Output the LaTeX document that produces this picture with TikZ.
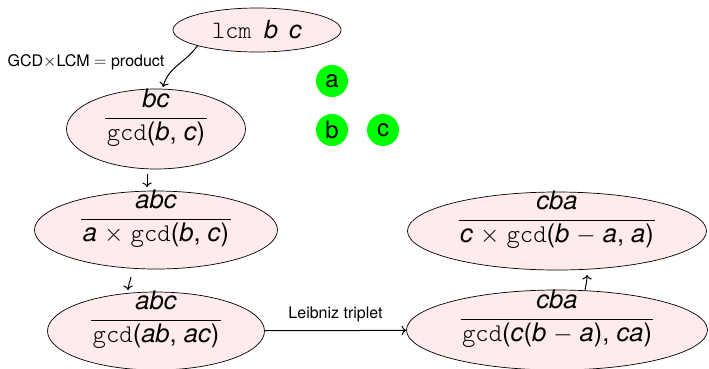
\documentclass[tikz,border=0pt]{standalone}
\usepackage{fontspec}
\setmainfont{TeX Gyre Heros}
\newfontfamily\lmlight{Latin Modern Mono Light}
\usetikzlibrary{shapes.geometric,arrows.meta}
\newcommand\Vv[1]{\textit{#1}}
\newcommand\Gcd{{\lmlight gcd}}
\setlength{\arrayrulewidth}{0.6pt}
\newcommand\Fr[2]{\raisebox{-11pt}{\begin{tabular}[b]{@{\hspace{1.5pt}}c@{\hspace{1.5pt}}}\rule[-11pt]{0pt}{0pt}#1\\\hline #2\end{tabular}}}
\begin{document}
\begin{tikzpicture}[x=1pt,y=-1pt,
  ellbase/.style={ellipse, draw, line width=0.7pt, fill=red!8, inner sep=0pt},
  ell/.style={ellbase, text height=0pt, text depth=0pt, font=\fontsize{25.5}{30}\selectfont},
  lbl/.style={font=\fontsize{16}{19}\selectfont},
  dot/.style={circle, fill=green, inner sep=0pt, minimum size=32pt, font=\fontsize{24}{28}\selectfont},
  arr/.style={-{To[scale=1.2]}, line width=1pt}]
\useasboundingbox (0,0) rectangle (709,368);
\node[ellbase, minimum width=168pt, minimum height=44pt, font=\fontsize{25}{30}\selectfont] (lcm) at (257,30) {{\lmlight lcm}\hspace{0.5em}\Vv{b}\hspace{0.45em}\Vv{c}};
\node[ell, minimum width=179pt, minimum height=80pt] (n1) at (156,129) {\Fr{\Vv{bc}}{\Gcd(\Vv{b}, \Vv{c})}};
\node[ell, minimum width=243pt, minimum height=78pt] (n2) at (156,230) {\Fr{\Vv{abc}}{\Vv{a} $\times$ \Gcd(\Vv{b}, \Vv{c})}};
\node[ell, minimum width=217pt, minimum height=78pt] (n3) at (156,331) {\Fr{\Vv{abc}}{\Gcd(\Vv{ab}, \Vv{ac})}};
\node[ell, minimum width=301pt, minimum height=80pt] (n4) at (557,330) {\Fr{\Vv{cba}}{\Gcd(\Vv{c}(\Vv{b} $-$ \Vv{a}), \Vv{ca})}};
\node[ell, minimum width=299pt, minimum height=78pt] (n5) at (557,231) {\Fr{\Vv{cba}}{\Vv{c} $\times$ \Gcd(\Vv{b} $-$ \Vv{a}, \Vv{a})}};
\node[dot] (da) at (332,81) {a};
\node[dot] (db) at (332,130) {b};
\node[dot] (dc) at (383,130) {c};
\node[lbl] (glabel) at (86,62) {GCD$\times$LCM $=$ product};
\coordinate (t1) at (163,87);
\draw[arr] (lcm.south west) to[out=235,in=75] (t1);
\coordinate (a1s) at (147,174);
\coordinate (a1e) at (147,187);
\draw[arr] (a1s) -- (a1e);
\coordinate (a2s) at (131,277);
\coordinate (a2e) at (128,290);
\draw[arr] (a2s) to[out=260,in=90] (a2e);
\coordinate (a3s) at (585,290);
\coordinate (a3e) at (587,275);
\draw[arr] (a3s) to[out=80,in=270] (a3e);
\draw[arr] (n3) -- node[lbl, above=5pt] (leib) {Leibniz triplet} (n4);
\end{tikzpicture}
\end{document}
